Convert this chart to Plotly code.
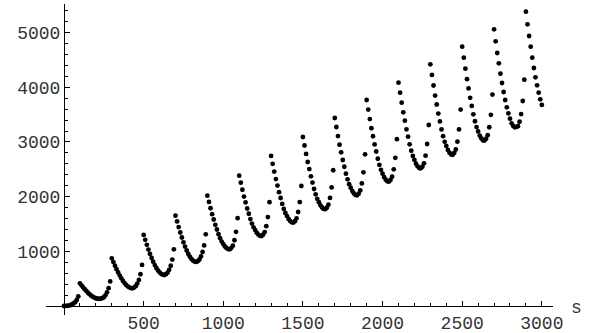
import plotly.graph_objects as go

# sample positions s = 0, 10, ..., 3000
s_values = list(range(0, 3001, 10))

# values, one list per branch (jumps at s = 100 + 200k)
f_0_90 = [0, 1, 3, 8, 15, 28, 45, 70, 110, 175]
f_100_290 = [415, 378, 341, 307, 275, 244, 216, 190, 170, 153, 141, 133, 130, 133, 143, 160, 195, 250, 325, 450]
f_300_490 = [872, 803, 736, 672, 613, 556, 505, 459, 419, 386, 359, 339, 327, 323, 336, 362, 409, 477, 580, 751]
f_500_690 = [1299, 1210, 1119, 1032, 954, 878, 810, 748, 695, 651, 615, 589, 573, 567, 581, 609, 661, 736, 849, 1037]
f_700_890 = [1652, 1546, 1443, 1344, 1253, 1165, 1087, 1015, 954, 902, 861, 830, 812, 805, 820, 850, 906, 987, 1108, 1310]
f_900_1090 = [2018, 1903, 1788, 1679, 1582, 1484, 1399, 1312, 1239, 1178, 1133, 1090, 1061, 1041, 1037, 1060, 1104, 1202, 1356, 1606]
f_1100_1290 = [2384, 2255, 2126, 2002, 1894, 1783, 1687, 1589, 1507, 1439, 1388, 1340, 1306, 1284, 1280, 1305, 1352, 1459, 1626, 1898]
f_1300_1490 = [2744, 2601, 2459, 2322, 2203, 2081, 1975, 1866, 1776, 1701, 1644, 1591, 1554, 1530, 1525, 1552, 1603, 1719, 1900, 2195]
f_1500_1690 = [3091, 2936, 2782, 2634, 2504, 2372, 2257, 2140, 2042, 1960, 1899, 1841, 1802, 1775, 1770, 1799, 1853, 1977, 2169, 2483]
f_1700_1890 = [3439, 3274, 3108, 2950, 2811, 2670, 2547, 2421, 2316, 2229, 2164, 2101, 2059, 2031, 2025, 2055, 2113, 2242, 2444, 2774]
f_1900_2090 = [3768, 3593, 3419, 3251, 3105, 2956, 2826, 2693, 2583, 2490, 2421, 2356, 2311, 2281, 2275, 2306, 2366, 2500, 2710, 3051]
f_2100_2290 = [4085, 3902, 3719, 3543, 3390, 3232, 3097, 2957, 2841, 2744, 2671, 2603, 2555, 2524, 2518, 2549, 2610, 2750, 2963, 3311]
f_2300_2490 = [4421, 4227, 4033, 3848, 3686, 3520, 3376, 3229, 3106, 3003, 2927, 2854, 2805, 2772, 2765, 2798, 2862, 3005, 3229, 3593]
f_2500_2690 = [4743, 4542, 4341, 4149, 3980, 3808, 3659, 3506, 3379, 3272, 3193, 3118, 3066, 3032, 3025, 3059, 3124, 3269, 3497, 3867]
f_2700_2890 = [5061, 4841, 4628, 4439, 4250, 4079, 3914, 3768, 3634, 3524, 3426, 3341, 3293, 3269, 3275, 3290, 3370, 3510, 3750, 4140]
f_2900_3000 = [5384, 5153, 4939, 4743, 4542, 4353, 4183, 4037, 3902, 3781, 3677]

x_tick_values = [500, 1000, 1500, 2000, 2500, 3000]
y_tick_values = [1000, 2000, 3000, 4000, 5000]
x_minor_values = [v for v in range(100, 3001, 100) if v % 500 != 0]
y_minor_values = [v for v in range(200, 5401, 200) if v % 1000 != 0]

f_values = (f_0_90 + f_100_290 + f_300_490 + f_500_690 + f_700_890 + f_900_1090
            + f_1100_1290 + f_1300_1490 + f_1500_1690 + f_1700_1890 + f_1900_2090
            + f_2100_2290 + f_2300_2490 + f_2500_2690 + f_2700_2890 + f_2900_3000)

FONT = "Courier New, Liberation Mono, monospace"
TXT = "#333"

fig = go.Figure(go.Scatter(
    x=s_values, y=f_values, mode="markers",
    marker=dict(color="black", size=4.8, line=dict(width=0)),
    hoverinfo="skip"))

W, H = 594, 333
ml, mr, mt, mb = 46, 41, 4, 18
pw, ph = W - ml - mr, H - mt - mb

fig.update_layout(
    width=W, height=H,
    margin=dict(l=ml, r=mr, t=mt, b=mb, pad=0, autoexpand=False),
    paper_bgcolor="white", plot_bgcolor="white",
    showlegend=False,
    xaxis=dict(
        range=[-113, 3070], showgrid=False, zeroline=False, automargin=False,
        showline=True, linecolor="black", linewidth=1,
        anchor="free", position=9 / ph,
        ticks="inside", ticklen=5, tickwidth=1, tickcolor="black",
        tickmode="array", tickvals=x_tick_values,
        ticktext=[str(v) for v in x_tick_values],
        tickfont=dict(family=FONT, size=18, color=TXT),
        minor=dict(ticks="inside", ticklen=3, tickwidth=1, tickcolor="black",
                   tickmode="array", tickvals=x_minor_values, showgrid=False),
    ),
    yaxis=dict(
        range=[-165, 5524], showgrid=False, zeroline=False, automargin=False,
        showline=True, linecolor="black", linewidth=1,
        anchor="free", position=18 / pw,
        ticks="inside", ticklen=5, tickwidth=1, tickcolor="black",
        tickmode="array", tickvals=y_tick_values,
        ticktext=[str(v) for v in y_tick_values],
        tickfont=dict(family=FONT, size=18, color=TXT),
        minor=dict(ticks="inside", ticklen=3, tickwidth=1, tickcolor="black",
                   tickmode="array", tickvals=y_minor_values, showgrid=False),
    ),
    annotations=[dict(text="s", xref="paper", yref="paper",
                      x=(576 - ml) / pw, y=(H - mb - 308) / ph,
                      xanchor="center", yanchor="middle", showarrow=False,
                      font=dict(family=FONT, size=18, color=TXT))],
)

fig.write_html("out.html",
               config={"displayModeBar": False, "staticPlot": True},
               post_script="document.body.style.margin='0';document.body.style.overflow='hidden';")
